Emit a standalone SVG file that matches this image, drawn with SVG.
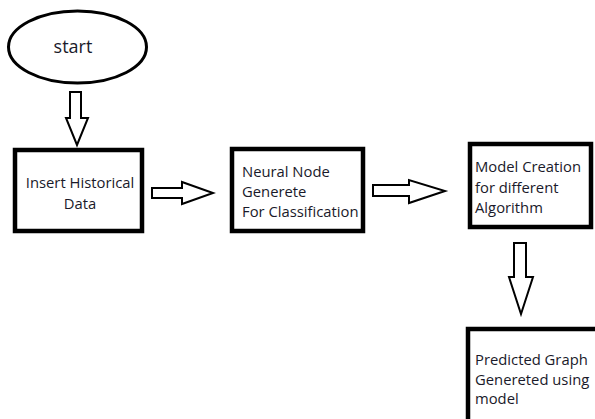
<svg xmlns="http://www.w3.org/2000/svg" width="595" height="419" viewBox="0 0 595 419">
<style>
.box{fill:#fff;stroke:#000;stroke-width:4.5}
.term{fill:#fff;stroke:#000;stroke-width:3}
.arr{fill:#fff;stroke:#000;stroke-width:2;stroke-linejoin:miter}
text{font-family:"Open Sans","Noto Sans","DejaVu Sans",sans-serif;font-size:14.8px;fill:#1a1a2a}
.big{font-size:18px}
</style>
<rect width="595" height="419" fill="#fff"/>
<g id="connectors">
<polygon class="arr" points="70,92 81,92 81,118 88,118 77,145 66,118 70,118"/>
<polygon class="arr" points="152,188 182,188 182,182 213,193 182,204 182,198 152,198"/>
<polygon class="arr" points="373,185 409,185 409,180 445,191 409,203 409,196 373,196"/>
<polygon class="arr" points="514,243 526,243 526,277 533,277 521,314 509,277 514,277"/>
</g>
<g id="start">
<ellipse class="term" cx="77.5" cy="47" rx="69" ry="36"/>
<text class="big" x="73" y="53" text-anchor="middle">start</text>
</g>
<g id="insert">
<rect class="box" x="15" y="150" width="127" height="81"/>
<text x="80" y="188" text-anchor="middle">Insert Historical</text>
<text x="80" y="209" text-anchor="middle">Data</text>
</g>
<g id="neural">
<rect class="box" x="232" y="149" width="131" height="82"/>
<text x="242" y="177">Neural Node</text>
<text x="242" y="197">Generete</text>
<text x="242" y="217">For Classification</text>
</g>
<g id="model">
<rect class="box" x="470" y="144" width="121" height="83"/>
<text x="475" y="172">Model Creation</text>
<text x="475" y="193">for different</text>
<text x="475" y="213">Algorithm</text>
</g>
<g id="predicted">
<rect class="box" x="468" y="329" width="140" height="100"/>
<text x="475" y="365">Predicted Graph</text>
<text x="475" y="385">Genereted using</text>
<text x="475" y="404">model</text>
</g>
</svg>
